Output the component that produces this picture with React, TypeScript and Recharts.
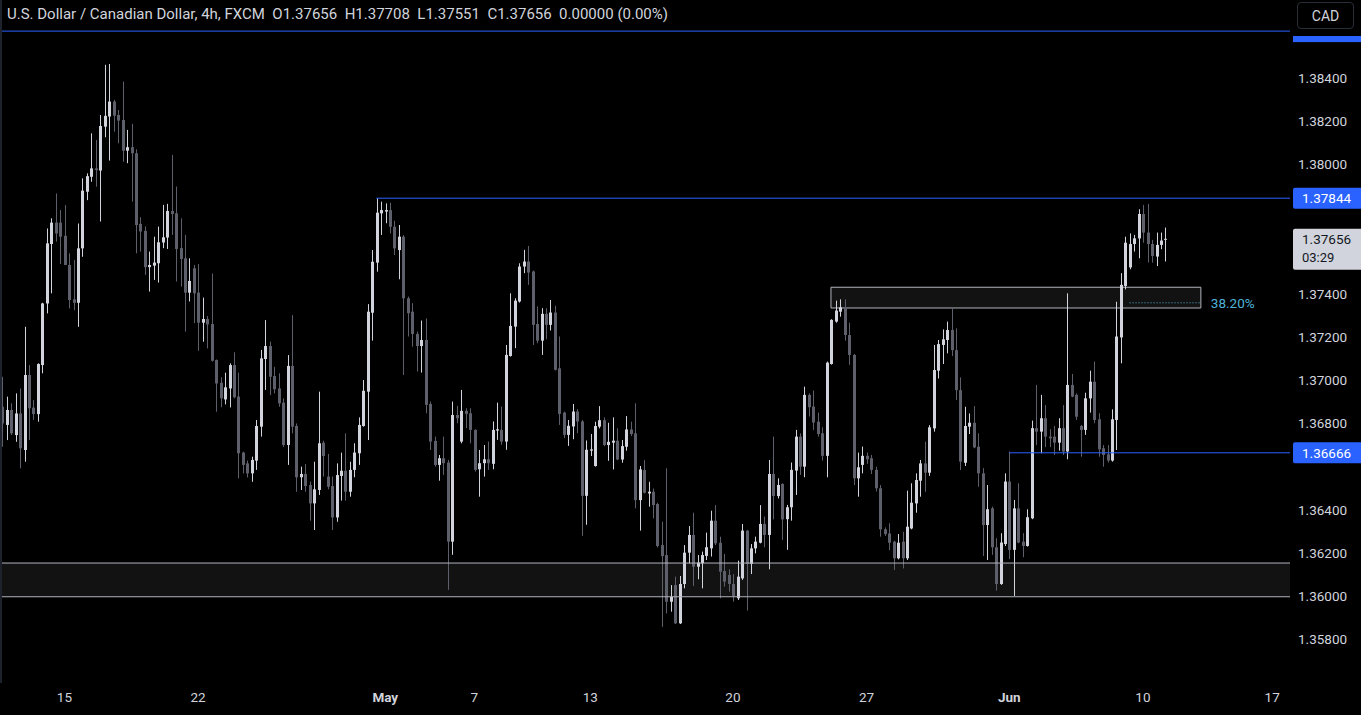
import React from 'react';
import { ComposedChart, Bar, XAxis, YAxis, ReferenceLine, ReferenceArea } from 'recharts';

// 4h candles, [open, high, low, close], one array per trading week
const weekApr11 = [
  [1.36879, 1.37018, 1.36694, 1.36802], [1.36795, 1.36926, 1.36725, 1.36864], [1.36864, 1.36895, 1.36748, 1.36756],
  [1.36748, 1.36941, 1.36717, 1.36848], [1.36848, 1.36964, 1.36594, 1.36687], [1.36679, 1.37249, 1.36625, 1.37026],
  [1.37026, 1.37072, 1.36725, 1.36872], [1.36875, 1.36910, 1.36818, 1.36845], [1.36845, 1.37080, 1.36810, 1.37077],
  [1.37072, 1.37360, 1.37034, 1.37357], [1.37357, 1.37704, 1.37311, 1.37635], [1.37632, 1.37751, 1.37404, 1.37731],
  [1.37731, 1.37866, 1.37643, 1.37681], [1.37731, 1.37789, 1.37539, 1.37666],
];
const weekApr15 = [
  [1.37670, 1.37812, 1.37535, 1.37535], [1.37535, 1.37589, 1.37334, 1.37373], [1.37376, 1.37558, 1.37326, 1.37360],
  [1.37360, 1.37727, 1.37249, 1.37612], [1.37612, 1.37936, 1.37573, 1.37879], [1.37874, 1.37959, 1.37835, 1.37946],
  [1.37943, 1.38144, 1.37920, 1.37982], [1.37982, 1.38113, 1.37897, 1.37974], [1.37972, 1.38229, 1.37736, 1.38178],
  [1.38175, 1.38461, 1.38126, 1.38225], [1.38222, 1.38465, 1.38018, 1.38291], [1.38291, 1.38299, 1.38152, 1.38226],
  [1.38229, 1.38252, 1.38098, 1.38203], [1.38206, 1.38384, 1.38013, 1.38064], [1.38064, 1.38160, 1.38006, 1.38080],
  [1.38080, 1.38188, 1.37828, 1.38052], [1.38052, 1.38070, 1.37589, 1.37720], [1.37725, 1.37756, 1.37597, 1.37690],
  [1.37693, 1.37713, 1.37489, 1.37525], [1.37525, 1.37597, 1.37412, 1.37535], [1.37532, 1.37666, 1.37466, 1.37546],
  [1.37543, 1.37713, 1.37454, 1.37640], [1.37639, 1.37813, 1.37613, 1.37663], [1.37662, 1.37818, 1.37609, 1.37785],
  [1.37785, 1.38044, 1.37674, 1.37771], [1.37774, 1.37898, 1.37458, 1.37609], [1.37613, 1.37751, 1.37435, 1.37563],
  [1.37566, 1.37674, 1.37227, 1.37407], [1.37407, 1.37566, 1.37366, 1.37461], [1.37520, 1.37535, 1.37266, 1.37404],
];
const weekApr22 = [
  [1.37407, 1.37539, 1.37138, 1.37268], [1.37268, 1.37384, 1.37180, 1.37285], [1.37285, 1.37299, 1.37149, 1.37260],
  [1.37262, 1.37496, 1.37088, 1.37092], [1.37095, 1.37098, 1.36856, 1.36987], [1.36990, 1.37015, 1.36877, 1.36918],
  [1.36913, 1.37037, 1.36890, 1.36969], [1.36964, 1.37080, 1.36876, 1.37072], [1.37072, 1.37131, 1.36918, 1.36923],
  [1.36926, 1.37037, 1.36548, 1.36664], [1.36667, 1.36671, 1.36571, 1.36610], [1.36617, 1.36630, 1.36552, 1.36571],
  [1.36571, 1.36648, 1.36532, 1.36633], [1.36630, 1.36818, 1.36587, 1.36790], [1.36787, 1.37142, 1.36741, 1.37103],
  [1.37100, 1.37280, 1.36957, 1.37160], [1.37160, 1.37180, 1.36933, 1.37018], [1.37021, 1.37064, 1.36941, 1.36960],
  [1.36964, 1.37034, 1.36879, 1.36895], [1.36898, 1.36918, 1.36694, 1.36702], [1.36702, 1.37118, 1.36610, 1.37068],
  [1.37068, 1.37303, 1.36756, 1.36787], [1.36790, 1.36802, 1.36486, 1.36553], [1.36553, 1.36602, 1.36494, 1.36568],
  [1.36568, 1.36614, 1.36486, 1.36512], [1.36517, 1.36533, 1.36352, 1.36432], [1.36432, 1.36625, 1.36309, 1.36497],
  [1.36494, 1.36949, 1.36471, 1.36710], [1.36713, 1.36722, 1.36556, 1.36651], [1.36556, 1.36661, 1.36497, 1.36509],
];
const weekApr29 = [
  [1.36512, 1.36556, 1.36309, 1.36367], [1.36367, 1.36617, 1.36347, 1.36563], [1.36559, 1.36667, 1.36445, 1.36583],
  [1.36583, 1.36756, 1.36445, 1.36486], [1.36486, 1.36625, 1.36463, 1.36587], [1.36587, 1.36710, 1.36553, 1.36667],
  [1.36664, 1.36830, 1.36610, 1.36795], [1.36790, 1.37003, 1.36787, 1.36953], [1.36949, 1.37354, 1.36725, 1.37319],
  [1.37314, 1.37604, 1.37185, 1.37550], [1.37546, 1.37844, 1.37504, 1.37777], [1.37774, 1.37828, 1.37674, 1.37789],
  [1.37782, 1.37820, 1.37728, 1.37789], [1.37789, 1.37823, 1.37681, 1.37712], [1.37712, 1.37740, 1.37581, 1.37612],
  [1.37604, 1.37720, 1.37469, 1.37666], [1.37666, 1.37674, 1.37026, 1.37381], [1.37381, 1.37389, 1.37204, 1.37312],
  [1.37319, 1.37358, 1.37157, 1.37216], [1.37216, 1.37227, 1.37042, 1.37160], [1.37160, 1.37278, 1.37037, 1.37188],
  [1.37188, 1.37288, 1.36849, 1.36888], [1.36892, 1.36903, 1.36679, 1.36718], [1.36721, 1.36741, 1.36602, 1.36610],
  [1.36610, 1.36656, 1.36537, 1.36641], [1.36641, 1.36741, 1.36564, 1.36618], [1.36621, 1.36633, 1.36032, 1.36255],
  [1.36255, 1.36903, 1.36194, 1.36841], [1.36841, 1.36883, 1.36803, 1.36826], [1.36718, 1.36957, 1.36710, 1.36860],
];
const weekMay06 = [
  [1.36860, 1.36872, 1.36780, 1.36846], [1.36849, 1.36872, 1.36710, 1.36772], [1.36772, 1.36775, 1.36579, 1.36587],
  [1.36590, 1.36679, 1.36463, 1.36618], [1.36618, 1.36702, 1.36556, 1.36636], [1.36636, 1.36718, 1.36587, 1.36618],
  [1.36615, 1.36811, 1.36590, 1.36772], [1.36769, 1.36898, 1.36726, 1.36775], [1.36772, 1.36880, 1.36703, 1.36718],
  [1.36718, 1.37165, 1.36680, 1.37119], [1.37114, 1.37404, 1.37111, 1.37253], [1.37250, 1.37381, 1.37150, 1.37370],
  [1.37366, 1.37543, 1.37361, 1.37528], [1.37528, 1.37605, 1.37497, 1.37551], [1.37551, 1.37623, 1.37443, 1.37500],
  [1.37505, 1.37509, 1.37165, 1.37258], [1.37262, 1.37343, 1.37173, 1.37185], [1.37185, 1.37335, 1.37119, 1.37309],
  [1.37309, 1.37335, 1.37191, 1.37258], [1.37258, 1.37373, 1.37232, 1.37315], [1.37315, 1.37346, 1.37047, 1.37050],
  [1.37057, 1.37204, 1.36795, 1.36846], [1.36852, 1.36857, 1.36734, 1.36749], [1.36749, 1.36818, 1.36698, 1.36791],
  [1.36788, 1.36892, 1.36729, 1.36857], [1.36857, 1.36868, 1.36757, 1.36811], [1.36811, 1.36818, 1.36282, 1.36467],
  [1.36467, 1.36723, 1.36333, 1.36680], [1.36676, 1.36753, 1.36651, 1.36682], [1.36605, 1.36810, 1.36602, 1.36790],
];
const weekMay13 = [
  [1.36787, 1.36882, 1.36779, 1.36817], [1.36817, 1.36830, 1.36697, 1.36702], [1.36702, 1.36805, 1.36629, 1.36717],
  [1.36713, 1.36830, 1.36589, 1.36722], [1.36722, 1.36779, 1.36632, 1.36635], [1.36635, 1.36725, 1.36620, 1.36697],
  [1.36694, 1.36836, 1.36676, 1.36774], [1.36774, 1.36810, 1.36743, 1.36753], [1.36756, 1.36895, 1.36409, 1.36447],
  [1.36447, 1.36605, 1.36306, 1.36589], [1.36586, 1.36632, 1.36478, 1.36481], [1.36478, 1.36532, 1.36417, 1.36486],
  [1.36486, 1.36501, 1.36363, 1.36424], [1.36429, 1.36435, 1.36228, 1.36235], [1.36239, 1.36347, 1.35861, 1.36188],
  [1.36193, 1.36594, 1.35923, 1.35977], [1.35977, 1.36054, 1.35931, 1.36000], [1.36054, 1.36093, 1.35874, 1.35877],
  [1.35877, 1.36096, 1.35874, 1.36059], [1.36059, 1.36239, 1.36039, 1.36204], [1.36204, 1.36327, 1.36155, 1.36286],
  [1.36286, 1.36389, 1.36050, 1.36139], [1.36139, 1.36193, 1.36081, 1.36158], [1.36155, 1.36209, 1.36039, 1.36193],
  [1.36189, 1.36297, 1.36170, 1.36229], [1.36224, 1.36398, 1.36186, 1.36352], [1.36352, 1.36424, 1.36239, 1.36247],
  [1.36250, 1.36278, 1.35993, 1.36116], [1.36119, 1.36198, 1.36047, 1.36070], [1.36101, 1.36127, 1.36024, 1.36059],
];
const weekMay20 = [
  [1.36059, 1.36105, 1.35977, 1.36004], [1.35993, 1.36167, 1.35985, 1.36093], [1.36085, 1.36337, 1.36078, 1.36306],
  [1.36306, 1.36309, 1.35936, 1.36152], [1.36152, 1.36244, 1.36105, 1.36224], [1.36224, 1.36278, 1.36201, 1.36255],
  [1.36250, 1.36424, 1.36247, 1.36337], [1.36337, 1.36371, 1.36229, 1.36286], [1.36286, 1.36633, 1.36127, 1.36568],
  [1.36568, 1.36741, 1.36358, 1.36466], [1.36466, 1.36548, 1.36455, 1.36517], [1.36522, 1.36525, 1.36263, 1.36358],
  [1.36359, 1.36425, 1.36217, 1.36414], [1.36414, 1.36621, 1.36352, 1.36587], [1.36584, 1.36772, 1.36471, 1.36741],
  [1.36741, 1.36756, 1.36564, 1.36602], [1.36602, 1.36972, 1.36553, 1.36934], [1.36934, 1.36941, 1.36834, 1.36877],
  [1.36880, 1.36954, 1.36772, 1.36806], [1.36810, 1.36852, 1.36741, 1.36753], [1.36756, 1.36784, 1.36630, 1.36652],
  [1.36652, 1.37088, 1.36553, 1.37083], [1.37077, 1.37284, 1.37074, 1.37281], [1.37273, 1.37370, 1.37268, 1.37324],
  [1.37319, 1.37376, 1.37296, 1.37339], [1.37339, 1.37376, 1.37185, 1.37211], [1.37211, 1.37268, 1.37073, 1.37119],
  [1.37119, 1.37123, 1.36517, 1.36548], [1.36548, 1.36667, 1.36463, 1.36599], [1.36610, 1.36695, 1.36571, 1.36652],
];
const weekMay27 = [
  [1.36652, 1.36667, 1.36615, 1.36636], [1.36641, 1.36656, 1.36568, 1.36587], [1.36587, 1.36602, 1.36487, 1.36502],
  [1.36502, 1.36517, 1.36278, 1.36312], [1.36312, 1.36321, 1.36281, 1.36290], [1.36293, 1.36340, 1.36216, 1.36250],
  [1.36255, 1.36259, 1.36124, 1.36178], [1.36178, 1.36290, 1.36173, 1.36250], [1.36255, 1.36301, 1.36131, 1.36178],
  [1.36178, 1.36491, 1.36170, 1.36324], [1.36316, 1.36525, 1.36312, 1.36435], [1.36432, 1.36571, 1.36389, 1.36540],
  [1.36537, 1.36633, 1.36463, 1.36617], [1.36617, 1.36717, 1.36486, 1.36574], [1.36574, 1.36794, 1.36559, 1.36784],
  [1.36779, 1.37165, 1.36764, 1.37049], [1.37046, 1.37188, 1.37010, 1.37169], [1.37165, 1.37237, 1.37077, 1.37191],
  [1.37188, 1.37273, 1.37126, 1.37234], [1.37234, 1.37339, 1.37114, 1.37141], [1.37141, 1.37242, 1.36910, 1.36956],
  [1.36956, 1.37015, 1.36586, 1.36625], [1.36620, 1.36879, 1.36605, 1.36790], [1.36787, 1.36848, 1.36753, 1.36805],
  [1.36805, 1.36882, 1.36687, 1.36691], [1.36694, 1.36756, 1.36509, 1.36571], [1.36571, 1.36595, 1.36189, 1.36332],
  [1.36332, 1.36517, 1.36170, 1.36405], [1.36409, 1.36417, 1.36194, 1.36229], [1.36229, 1.36271, 1.36029, 1.36059],
];
const weekJun03 = [
  [1.36059, 1.36294, 1.36055, 1.36251], [1.36244, 1.36571, 1.36235, 1.36533], [1.36533, 1.36672, 1.36174, 1.36217],
  [1.36217, 1.36448, 1.36004, 1.36409], [1.36409, 1.36525, 1.36248, 1.36251], [1.36255, 1.36294, 1.36183, 1.36235],
  [1.36235, 1.36405, 1.36232, 1.36368], [1.36363, 1.36815, 1.36359, 1.36780], [1.36780, 1.36980, 1.36702, 1.36764],
  [1.36764, 1.36934, 1.36664, 1.36826], [1.36826, 1.36887, 1.36692, 1.36741], [1.36741, 1.36775, 1.36692, 1.36733],
  [1.36741, 1.36790, 1.36656, 1.36713], [1.36713, 1.36826, 1.36676, 1.36780], [1.36780, 1.36887, 1.36656, 1.36672],
  [1.36672, 1.37404, 1.36636, 1.36980], [1.36980, 1.37031, 1.36923, 1.36926], [1.36934, 1.36941, 1.36818, 1.36833],
  [1.36790, 1.36795, 1.36648, 1.36772], [1.36772, 1.36944, 1.36749, 1.36918], [1.36918, 1.37046, 1.36852, 1.36995],
  [1.36995, 1.37088, 1.36803, 1.36818], [1.36821, 1.36849, 1.36648, 1.36682], [1.36687, 1.36702, 1.36602, 1.36656],
  [1.36659, 1.36702, 1.36621, 1.36630], [1.36630, 1.36867, 1.36625, 1.36821], [1.36818, 1.37365, 1.36679, 1.37204],
  [1.37200, 1.37497, 1.37080, 1.37443], [1.37438, 1.37666, 1.37422, 1.37638], [1.37524, 1.37681, 1.37515, 1.37632],
];
const weekJun10 = [
  [1.37632, 1.37674, 1.37597, 1.37658], [1.37658, 1.37793, 1.37566, 1.37771], [1.37771, 1.37813, 1.37638, 1.37685],
  [1.37685, 1.37817, 1.37546, 1.37632], [1.37632, 1.37651, 1.37546, 1.37577], [1.37574, 1.37685, 1.37530, 1.37628],
  [1.37628, 1.37685, 1.37608, 1.37648], [1.37656, 1.37708, 1.37551, 1.37656],
];

// time axis labels and the bar they sit on
const timeLabels = ['15', '22', 'May', '7', '13', '20', '27', 'Jun', '10', '17'];
const timeBars = [14, 44, 86, 106, 132, 164, 194, 226, 256, 285];
const monthLabels = ['May', 'Jun'];

const priceTicks = [1.384, 1.382, 1.38, 1.374, 1.372, 1.37, 1.368, 1.364, 1.362, 1.36, 1.358];

// drawings
const topLevel = 1.38617;
const resistance = { from: 84, price: 1.37844 };
const support = { from: 226, price: 1.36666 };
const supportZone = [1.36, 1.36156];
const fibBox = { x1: 186, x2: 269, y1: 1.37336, y2: 1.37432 };
const fibLevel = { x1: 253, x2: 269, price: 1.3736, text: '38.20%' };
const lastPrice = 1.37656;
const countdown = '03:29';

const header = 'U.S. Dollar / Canadian Dollar, 4h, FXCM  O1.37656  H1.37708  L1.37551  C1.37656  0.00000 (0.00%)';

const weeks = [weekApr11, weekApr15, weekApr22, weekApr29, weekMay06, weekMay13, weekMay20, weekMay27, weekJun03, weekJun10];
const data = weeks.flat().map(([open, high, low, close], i) => ({ i, open, high, low, close, range: [low, high] }));

const BULL = '#d1d4dc';
const BEAR = '#5d606b';
const BLUE = '#2962ff';
const TEXT = '#d1d4dc';
const FONT = 'Roboto, "Noto Sans", sans-serif';

const X_MAX = 289;

function Candle(props: any) {
  const { x, y, width, height, payload } = props;
  if (!payload || height == null) return null;
  const { open, close, high, low } = payload;
  const span = high - low || 1e-9;
  const toY = (v: number) => y + ((high - v) / span) * height;
  const color = close >= open ? BULL : BEAR;
  const cx = Math.round(x + width / 2) + 0.5;
  const top = toY(Math.max(open, close));
  const bottom = toY(Math.min(open, close));
  return (
    <g>
      <line x1={cx} x2={cx} y1={y} y2={y + height} stroke={color} strokeWidth={1} />
      <rect x={cx - 1.5} y={top} width={3} height={Math.max(1, bottom - top)} fill={color} />
    </g>
  );
}

function PriceTick({ x, y, payload }: any) {
  return (
    <text x={x} y={y} dy={4.5} fill={TEXT} fontSize={13.5} fontFamily={FONT} textAnchor="start">
      {payload.value.toFixed(5)}
    </text>
  );
}

function TimeTick({ x, y, payload }: any) {
  const label = timeLabels[timeBars.indexOf(payload.value)];
  const bold = monthLabels.includes(label);
  return (
    <text x={x} y={y} dy={11} fill={TEXT} fontSize={13.5} fontWeight={bold ? 700 : 400} fontFamily={FONT} textAnchor="middle">
      {label}
    </text>
  );
}

const axisTag = (text: string, bg: string, fg: string) => (props: any) => {
  const { viewBox } = props;
  const right = viewBox.x + viewBox.width;
  const y = viewBox.y;
  return (
    <g>
      <rect x={right + 3} y={y - 10.5} width={71} height={21} rx={2} fill={bg} />
      <text x={right + 12} y={y + 5} fill={fg} fontSize={13.5} fontFamily={FONT}>{text}</text>
    </g>
  );
};

const lastTag = (props: any) => {
  const { viewBox } = props;
  const right = viewBox.x + viewBox.width;
  const y = viewBox.y;
  return (
    <g>
      <rect x={right + 3} y={y - 10} width={71} height={41} rx={2} fill="#d1d4dc" />
      <text x={right + 12} y={y + 5} fill="#131722" fontSize={13.5} fontFamily={FONT}>{lastPrice.toFixed(5)}</text>
      <text x={right + 12} y={y + 23} fill="#131722" fontSize={13} fontFamily={FONT}>{countdown}</text>
    </g>
  );
};

const fibTag = (props: any) => {
  const { viewBox } = props;
  return (
    <text x={viewBox.x + viewBox.width + 10} y={viewBox.y + 5} fill="#4fb3d9" fontSize={13.5} fontFamily={FONT}>
      {fibLevel.text}
    </text>
  );
};

const topTag = (props: any) => {
  const { viewBox } = props;
  const right = viewBox.x + viewBox.width;
  return <rect x={right + 3} y={viewBox.y - 10} width={71} height={21} fill={BLUE} />;
};

export default function App() {
  return (
    <div style={{ position: 'fixed', left: 0, top: 0, width: 1361, height: 715, background: '#000', overflow: 'hidden' }}>
      <ComposedChart width={1361} height={715} data={data} margin={{ top: 0, right: 0, bottom: 0, left: 0 }}>
        <XAxis
          dataKey="i"
          type="number"
          domain={[-0.45, X_MAX]}
          allowDataOverflow
          ticks={timeBars}
          tick={<TimeTick />}
          axisLine={false}
          tickLine={false}
          height={32}
          interval={0}
        />
        <YAxis
          orientation="right"
          domain={[1.35601, 1.38761]}
          allowDataOverflow
          ticks={priceTicks}
          tick={<PriceTick />}
          axisLine={false}
          tickLine={false}
          width={71}
          interval={0}
        />
        <ReferenceArea y1={supportZone[0]} y2={supportZone[1]} fill="#ffffff" fillOpacity={0.07} stroke="none" />
        <ReferenceLine y={supportZone[0]} stroke="#b2b5be" strokeWidth={1} />
        <ReferenceLine y={supportZone[1]} stroke="#b2b5be" strokeWidth={1} />
        <ReferenceArea
          x1={fibBox.x1}
          x2={fibBox.x2}
          y1={fibBox.y1}
          y2={fibBox.y2}
          fill="#ffffff"
          fillOpacity={0.07}
          stroke="#b2b5be"
          strokeWidth={1}
        />
        <ReferenceLine
          segment={[{ x: fibLevel.x1, y: fibLevel.price }, { x: fibLevel.x2, y: fibLevel.price }]}
          stroke="#4fb3d9"
          strokeDasharray="1 2"
          label={fibTag}
        />
        <ReferenceLine y={topLevel} stroke={BLUE} strokeWidth={1} label={topTag} />
        <ReferenceLine
          segment={[{ x: resistance.from, y: resistance.price }, { x: X_MAX, y: resistance.price }]}
          stroke={BLUE}
          strokeWidth={1}
          label={axisTag(resistance.price.toFixed(5), BLUE, '#ffffff')}
        />
        <ReferenceLine
          segment={[{ x: support.from, y: support.price }, { x: X_MAX, y: support.price }]}
          stroke={BLUE}
          strokeWidth={1}
          label={axisTag(support.price.toFixed(5), BLUE, '#ffffff')}
        />
        <ReferenceLine y={lastPrice} stroke="none" label={lastTag} />
        <Bar dataKey="range" shape={<Candle />} barSize={3} isAnimationActive={false} />
      </ComposedChart>
      <div style={{ position: 'absolute', left: 0, top: 0, width: 2, height: 683, background: '#1e222d' }} />
      <div style={{ position: 'absolute', left: 1290, top: 0, width: 71, height: 36, background: '#000' }} />
      <div
        style={{
          position: 'absolute', left: 1297, top: 2, width: 57, height: 27, border: '1px solid #2a2e39',
          borderRadius: 4, color: TEXT, fontFamily: FONT, fontSize: 14, display: 'flex', alignItems: 'center',
          justifyContent: 'center', boxSizing: 'border-box',
        }}
      >
        CAD
      </div>
      <div
        style={{
          position: 'absolute', left: 7, top: 5, color: TEXT, fontFamily: FONT, fontSize: 15, whiteSpace: 'pre',
        }}
      >
        {header}
      </div>
    </div>
  );
}
